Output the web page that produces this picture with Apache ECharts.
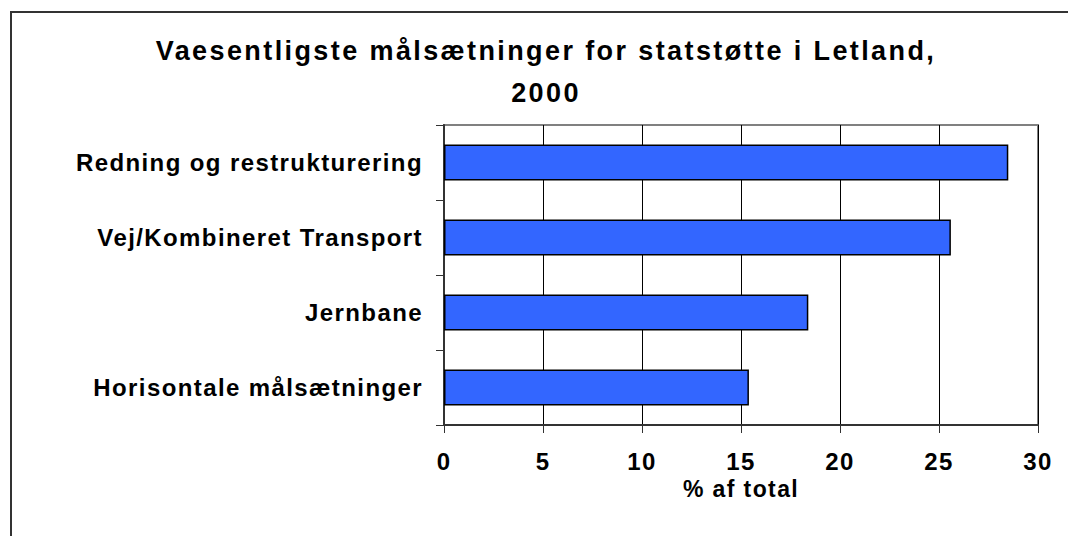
<!DOCTYPE html>
<html>
<head>
<meta charset="utf-8">
<script src="https://cdn.jsdelivr.net/npm/echarts@6/dist/echarts.min.js"></script>
<style>
  html, body { margin: 0; padding: 0; background: #fff; }
  #chart { width: 1068px; height: 536px; }
  /* the reference text is set wide, so add some tracking */
  #chart text { letter-spacing: 1.4px; }
  #chart text[style*="27px"] { letter-spacing: 2.4px; }
</style>
</head>
<body>
<div id="chart"></div>
<script>
  const titleLines = ['Vaesentligste målsætninger for statstøtte i Letland,', '2000'];
  const categories = ['Redning og restrukturering', 'Vej/Kombineret Transport', 'Jernbane', 'Horisontale målsætninger'];
  const values = [28.5, 25.6, 18.4, 15.4];
  const axisName = '% af total';

  const font = "'Liberation Sans', Arial, sans-serif";

  const chart = echarts.init(document.getElementById('chart'), null, { renderer: 'svg' });

  chart.setOption({
    animation: false,
    backgroundColor: '#fff',
    graphic: [
      {
        type: 'rect',
        shape: { x: 11, y: 12, width: 1200, height: 800 },
        style: { fill: 'none', stroke: '#333', lineWidth: 2 },
        silent: true
      },
      {
        type: 'text',
        x: 546,
        y: 30,
        style: {
          text: titleLines.join('\n'),
          align: 'center',
          verticalAlign: 'top',
          fontFamily: font,
          fontWeight: 'bold',
          fontSize: 27,
          lineHeight: 42,
          fill: '#000'
        }
      }
    ],
    grid: {
      left: 444, right: 30, top: 125, bottom: 111,
      show: true, borderColor: '#808080', borderWidth: 2
    },
    xAxis: {
      type: 'value',
      min: 0, max: 30, interval: 5,
      name: axisName,
      nameLocation: 'middle',
      nameGap: 52,
      nameTextStyle: { fontFamily: font, fontWeight: 'bold', fontSize: 23, color: '#000' },
      axisLine: { show: true, lineStyle: { color: '#333', width: 2 } },
      axisTick: { show: true, length: 8, lineStyle: { color: '#333', width: 1 } },
      axisLabel: { margin: 24, fontFamily: font, fontWeight: 'bold', fontSize: 24, color: '#000' },
      splitLine: { show: true, lineStyle: { color: '#000', width: 1 } }
    },
    yAxis: {
      type: 'category',
      data: categories,
      inverse: true,
      axisLine: { show: true, lineStyle: { color: '#333', width: 2 } },
      axisTick: { show: true, length: 8, alignWithLabel: false, lineStyle: { color: '#333', width: 1 } },
      axisLabel: { margin: 21, fontFamily: font, fontWeight: 'bold', fontSize: 24, color: '#000' },
      splitLine: { show: false }
    },
    series: [{
      type: 'bar',
      data: values,
      barWidth: 36,
      itemStyle: { color: '#3366ff', borderColor: '#000', borderWidth: 1.5 }
    }]
  });
</script>
</body>
</html>
